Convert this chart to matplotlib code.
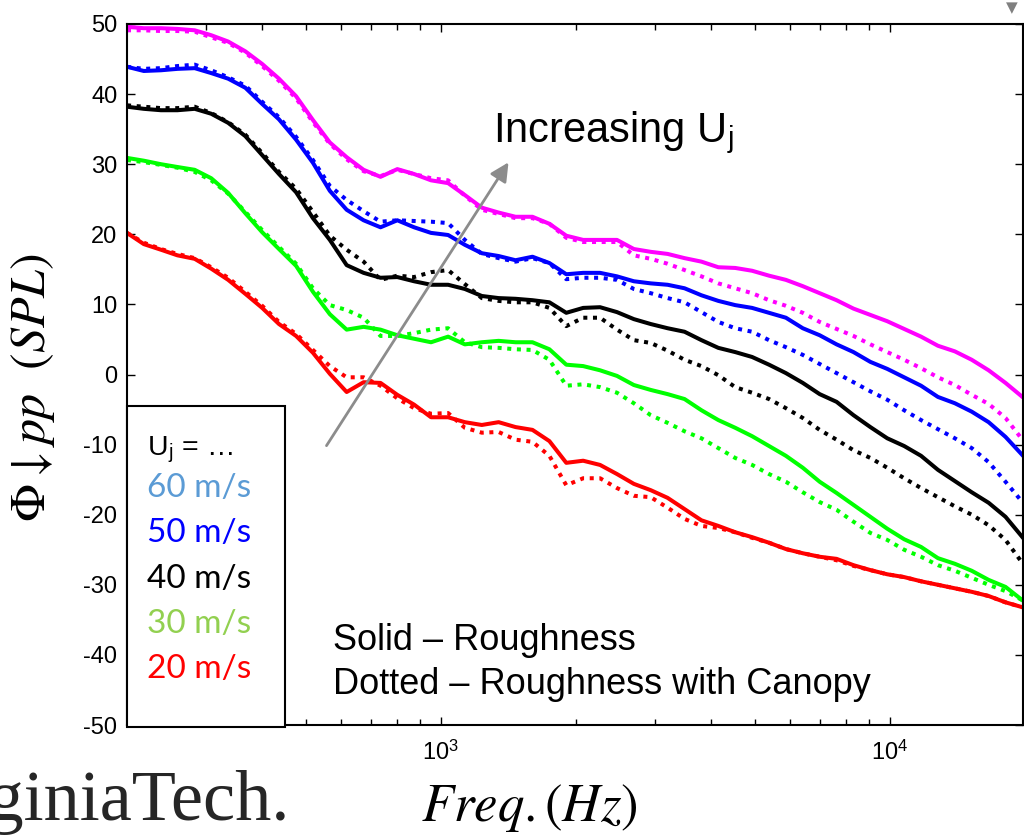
import matplotlib.pyplot as plt
from matplotlib.patches import Rectangle
from matplotlib.ticker import NullFormatter

plt.rcParams['font.family'] = ['Liberation Sans', 'DejaVu Sans']
plt.rcParams['mathtext.fontset'] = 'stix'
plt.rcParams['axes.unicode_minus'] = False

# frequencies (Hz), 1/8 octave steps
freq = [200, 218, 238, 259, 283, 308, 336, 367, 400, 436,
        476, 519, 566, 617, 673, 734, 800, 872, 951, 1038,
        1131, 1234, 1345, 1467, 1600, 1745, 1903, 2075, 2263, 2468,
        2691, 2934, 3200, 3490, 3806, 4150, 4525, 4935, 5382, 5869,
        6400, 6979, 7611, 8300, 9051, 9870, 10763, 11738, 12800, 13959,
        15222, 16600, 18102, 19740]

# 60 m/s
u60_rough = [49.6, 49.4, 49.4, 49.3, 49.1, 48.4, 47.5, 46.1, 44.3, 42.2,
             39.7, 36.3, 33.1, 31.0, 29.2, 28.2, 29.3, 28.6, 27.7, 27.3,
             25.6, 23.8, 23.1, 22.5, 22.5, 21.5, 19.8, 19.2, 19.2, 19.2,
             17.9, 17.5, 17.2, 16.6, 16.1, 15.3, 15.2, 14.8, 14.1, 13.5,
             12.6, 11.6, 10.6, 9.4, 8.5, 7.6, 6.5, 5.4, 4.1, 3.3,
             2.1, 0.6, -1.2, -3.2]
u60_canopy = [49.1, 49.1, 49.0, 49.0, 48.9, 48.1, 47.3, 45.9, 44.0, 41.9,
              39.4, 36.0, 32.9, 30.7, 29.0, 28.3, 29.2, 28.6, 28.0, 27.7,
              25.5, 23.5, 22.9, 22.3, 22.3, 21.5, 19.5, 18.9, 18.9, 18.9,
              17.0, 16.5, 15.8, 14.9, 14.0, 13.0, 12.3, 11.6, 10.6, 9.8,
              8.8, 7.5, 6.5, 5.5, 4.3, 3.2, 2.1, 0.9, -0.4, -1.5,
              -2.9, -4.2, -6.2, -9.3]
# 50 m/s
u50_rough = [43.9, 43.3, 43.4, 43.6, 43.7, 43.0, 42.2, 40.9, 38.6, 36.4,
             33.5, 30.2, 26.2, 23.5, 22.0, 21.0, 22.0, 21.0, 20.2, 19.9,
             18.5, 17.3, 16.9, 16.3, 16.8, 15.9, 14.3, 14.5, 14.5, 14.0,
             13.3, 13.0, 12.8, 12.3, 11.3, 10.5, 9.9, 9.5, 8.8, 8.1,
             6.6, 5.6, 4.3, 3.2, 1.8, 0.8, -0.4, -1.6, -3.2, -4.1,
             -5.3, -6.8, -8.9, -11.5]
u50_canopy = [43.9, 43.6, 43.7, 44.0, 44.2, 43.4, 42.4, 41.2, 38.9, 36.7,
              33.9, 30.6, 26.9, 24.9, 23.3, 21.8, 22.0, 21.9, 21.8, 21.6,
              19.2, 17.2, 16.6, 16.1, 16.6, 15.9, 13.6, 13.8, 13.8, 13.5,
              12.2, 11.6, 10.9, 10.3, 8.9, 7.5, 6.6, 6.1, 4.9, 3.9,
              2.8, 1.5, 0.2, -1.1, -2.4, -3.6, -5.1, -6.5, -7.8, -9.1,
              -10.5, -12.5, -15.3, -18.2]
# 40 m/s
u40_rough = [38.2, 37.9, 37.7, 37.7, 37.9, 37.2, 35.9, 34.0, 31.3, 28.6,
             26.0, 22.3, 19.2, 15.6, 14.5, 13.8, 13.9, 13.3, 12.8, 12.8,
             12.2, 11.2, 10.9, 10.8, 10.6, 10.3, 8.8, 9.5, 9.6, 8.9,
             7.9, 7.2, 6.6, 6.1, 4.9, 3.8, 3.2, 2.5, 1.4, 0.2,
             -1.2, -2.8, -3.9, -5.8, -7.5, -9.1, -10.2, -11.6, -13.6, -15.2,
             -16.8, -18.3, -20.3, -23.2]
u40_canopy = [38.4, 38.2, 38.0, 38.0, 38.2, 37.3, 36.0, 34.2, 31.6, 28.9,
              26.5, 23.2, 19.8, 17.8, 16.1, 13.5, 14.1, 13.9, 14.6, 14.9,
              12.9, 10.9, 10.5, 10.3, 10.3, 9.5, 6.9, 8.1, 8.1, 6.4,
              4.9, 4.5, 3.4, 2.1, 1.2, -0.1, -1.8, -2.6, -3.5, -4.8,
              -6.2, -7.9, -9.3, -10.8, -11.9, -13.3, -14.8, -16.2, -17.5, -18.8,
              -20.0, -21.5, -23.6, -26.9]
# 30 m/s
u30_rough = [30.9, 30.5, 30.0, 29.6, 29.2, 28.0, 25.9, 23.0, 20.3, 17.9,
             15.5, 11.8, 8.6, 6.4, 6.8, 6.4, 5.6, 5.1, 4.6, 5.4,
             4.3, 4.6, 4.8, 4.6, 4.6, 3.6, 1.4, 1.2, 0.6, -0.2,
             -1.5, -2.2, -2.8, -3.5, -5.1, -6.5, -7.6, -8.8, -10.2, -11.6,
             -13.3, -15.3, -16.9, -18.6, -20.3, -22.0, -23.5, -24.6, -26.2, -27.0,
             -28.0, -29.3, -30.3, -32.2]
u30_canopy = [30.6, 30.3, 29.9, 29.5, 28.9, 27.7, 25.8, 23.2, 20.6, 18.2,
              15.8, 12.3, 9.9, 9.2, 8.1, 5.5, 5.5, 5.9, 6.4, 6.6,
              4.6, 3.9, 3.8, 3.6, 3.5, 2.1, -1.6, -1.4, -1.8, -2.6,
              -4.1, -5.8, -6.9, -8.1, -9.1, -10.5, -11.9, -12.9, -14.2, -15.3,
              -16.8, -18.2, -19.3, -21.0, -22.6, -23.6, -25.0, -26.0, -27.2, -28.0,
              -29.0, -30.0, -30.9, -32.2]
# 20 m/s
u20_rough = [20.2, 18.6, 17.8, 17.0, 16.5, 15.1, 13.5, 11.5, 9.5, 7.2,
             5.5, 3.1, 0.1, -2.5, -1.1, -1.2, -2.9, -4.3, -6.1, -6.1,
             -6.8, -7.2, -6.8, -7.5, -7.9, -9.5, -12.6, -12.3, -12.9, -14.2,
             -15.6, -16.5, -17.6, -19.2, -20.8, -21.6, -22.5, -23.2, -24.0, -24.9,
             -25.5, -26.0, -26.3, -27.2, -27.9, -28.5, -28.9, -29.5, -30.0, -30.5,
             -31.0, -31.6, -32.5, -33.2]
u20_canopy = [20.2, 18.8, 17.9, 17.2, 16.6, 15.3, 13.8, 11.8, 9.8, 7.5,
              5.8, 3.5, 1.2, -0.4, -0.4, -1.6, -3.4, -4.8, -5.6, -5.5,
              -7.6, -8.3, -8.2, -9.3, -9.6, -11.6, -15.8, -14.8, -14.8, -16.2,
              -17.3, -17.5, -19.0, -20.6, -21.6, -21.9, -22.5, -23.3, -24.0, -24.9,
              -25.5, -26.0, -26.5, -27.3, -27.9, -28.5, -28.9, -29.5, -30.0, -30.5,
              -31.0, -31.6, -32.5, -33.2]

line_colors = ['#ff00ff', '#0000ff', '#000000', '#00ff00', '#ff0000']
legend_labels = ['60 m/s', '50 m/s', '40 m/s', '30 m/s', '20 m/s']
legend_colors = ['#5b9bd5', '#0000ff', '#000000', '#92d050', '#ff0000']

fig = plt.figure(figsize=(10.24, 8.36), dpi=100)
ax = fig.add_axes([127 / 1024, 111 / 836, 896 / 1024, 701 / 836])

pairs = [(u60_rough, u60_canopy), (u50_rough, u50_canopy), (u40_rough, u40_canopy),
         (u30_rough, u30_canopy), (u20_rough, u20_canopy)]
for (solid, dotted), c in zip(pairs, line_colors):
    ax.plot(freq, solid, color=c, lw=2.9)
    ax.plot(freq, dotted, color=c, lw=2.9, linestyle=(0, (1, 1.4)), dash_capstyle='butt')

ax.set_xscale('log')
ax.set_xlim(200, 19800)
ax.set_ylim(-50, 50)
ax.set_yticks(range(-50, 51, 10))
ax.set_xticks([1e3, 1e4], labels=[r'10$^\mathregular{3}$', r'10$^\mathregular{4}$'])
ax.xaxis.set_minor_formatter(NullFormatter())
ax.tick_params(which='both', direction='in', top=True, right=True, labelsize=17, width=1)
ax.tick_params(which='major', length=6)
ax.tick_params(which='minor', length=4)
ax.tick_params(axis='x', pad=11)
ax.tick_params(axis='y', pad=7)
for sp in ax.spines.values():
    sp.set_linewidth(1.5)

# legend box
ax.add_patch(Rectangle((127 / 1024, 1 - 727 / 836), 158 / 1024, 321 / 836,
                       transform=fig.transFigure, facecolor='white', edgecolor='black',
                       lw=1.5, zorder=5, clip_on=False))
fig.text(147 / 1024, 1 - 455 / 836, r'U$_\mathregular{j}$ = …', fontsize=20.5, va='baseline')
for i, (lab, c) in enumerate(zip(legend_labels, legend_colors)):
    fig.text(147 / 1024, 1 - (497 + 45.3 * i) / 836, lab, color=c, fontsize=24,
             family=['Lato', 'DejaVu Sans'], va='baseline')

# annotations
ax.annotate('', xy=(510 / 1024, 1 - 160 / 836), xytext=(325 / 1024, 1 - 448 / 836),
            xycoords='figure fraction', textcoords='figure fraction',
            arrowprops=dict(arrowstyle='-|>', color='#8c8c8c', lw=2, mutation_scale=28))
fig.text(493 / 1024, 1 - 142 / 836, r'Increasing U$_\mathregular{j}$', fontsize=30, va='baseline')
fig.text(333 / 1024, 1 - 650 / 836, 'Solid – Roughness', fontsize=26, va='baseline')
fig.text(333 / 1024, 1 - 694 / 836, 'Dotted – Roughness with Canopy', fontsize=26, va='baseline')

# axis labels
fig.text(529 / 1024, 1 - 808 / 836, r'$Freq.(Hz)$', fontsize=38, ha='center', va='center')
fig.text(33 / 1024, 1 - 388 / 836, r'$\Phi\downarrow pp\ \ (SPL)$', fontsize=36,
         rotation=90, ha='center', va='center')

fig.text(290 / 1024, 1 - 820 / 836, 'VirginiaTech.', fontsize=52, ha='right', va='baseline',
         family='Liberation Serif', color='#262626')
fig.text(1012 / 1024, 1 - 8 / 836, '▼', fontsize=11, color='#808080', ha='center', va='center',
         family='DejaVu Sans')

plt.savefig('out.png', dpi=100)
